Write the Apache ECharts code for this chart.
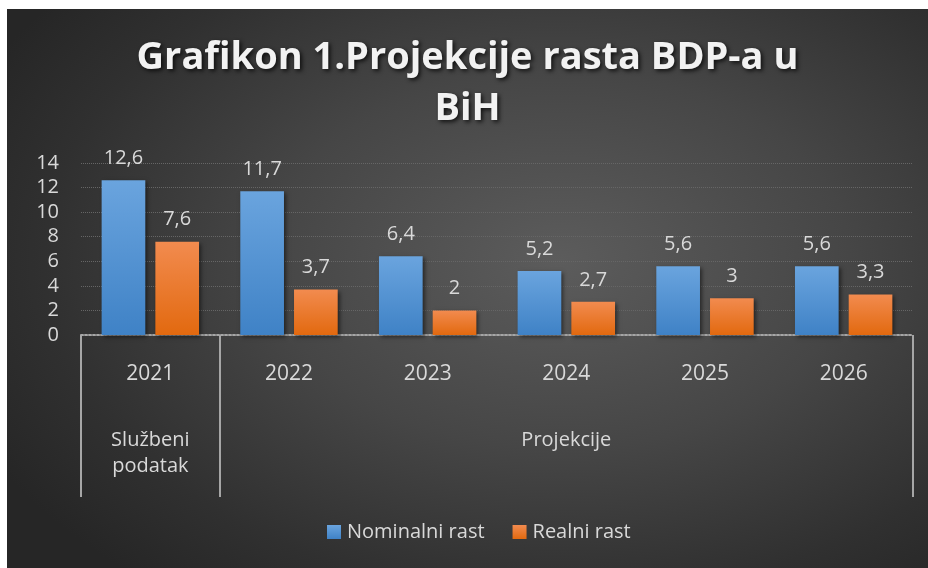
<!DOCTYPE html>
<html>
<head>
<meta charset="utf-8">
<script src="https://cdn.jsdelivr.net/npm/echarts@6/dist/echarts.min.js"></script>
<style>
  html, body { margin: 0; padding: 0; background: #ffffff; width: 928px; height: 568px; overflow: hidden; }
  #chart {
    position: absolute; left: 7px; top: 9px; width: 921px; height: 559px;
    background: radial-gradient(ellipse 70% 75% at 60% 45%, #5c5c5c 0%, #464646 45%, #303030 80%, #262626 100%);
  }
</style>
</head>
<body>
<div id="chart"></div>
<script>
const titleText = 'Grafikon 1.Projekcije rasta BDP-a u\nBiH';
const years = ['2021', '2022', '2023', '2024', '2025', '2026'];
const nominal = [12.6, 11.7, 6.4, 5.2, 5.6, 5.6];
const real = [7.6, 3.7, 2, 2.7, 3, 3.3];
const seriesNames = ['Nominalni rast', 'Realni rast'];
const groupLabels = ['Službeni\npodatak', 'Projekcije'];
const groupLabelPos = [0.5, 3.5];
const groupBounds = [0, 1, 6];
const yTicks = { min: 0, max: 14, interval: 2 };

const FONT = '"Open Sans", sans-serif';
const TXT = '#d9d9d9';
const chart = echarts.init(document.getElementById('chart'), null, { renderer: 'canvas' });

function fmt(v) { return String(v).replace('.', ','); }

const blueGrad = new echarts.graphic.LinearGradient(0, 0, 0, 1, [
  { offset: 0, color: '#6aa4de' }, { offset: 1, color: '#3f82c6' }
]);
const orangeGrad = new echarts.graphic.LinearGradient(0, 0, 0, 1, [
  { offset: 0, color: '#f28b4f' }, { offset: 1, color: '#e2690f' }
]);

const labelCfg = {
  show: true, position: 'top', distance: 12,
  color: TXT, fontFamily: FONT, fontSize: 20,
  formatter: p => fmt(p.value)
};

chart.setOption({
  backgroundColor: 'transparent',
  title: {
    text: titleText, left: 'center', top: 19,
    textStyle: {
      color: '#f2f2f2', fontFamily: FONT, fontWeight: 'bold', fontSize: 38, lineHeight: 51,
      textShadowColor: 'rgba(0,0,0,0.75)', textShadowBlur: 4, textShadowOffsetX: 2, textShadowOffsetY: 2
    }
  },
  legend: {
    data: seriesNames, bottom: 21, left: 315,
    icon: 'rect', itemWidth: 14, itemHeight: 14, itemGap: 28,
    textStyle: { color: TXT, fontFamily: FONT, fontSize: 20, padding: [0, 0, 0, 1] }
  },
  grid: { left: 74, right: 15, top: 154, bottom: 233, containLabel: false },
  xAxis: [
    {
      type: 'category', data: years, position: 'bottom',
      axisLine: { show: true, lineStyle: { color: '#a6a6a6', width: 2, type: 'dotted' } },
      axisTick: { show: false },
      axisLabel: { color: TXT, fontFamily: FONT, fontSize: 21, margin: 29 },
      splitLine: { show: false }
    },
    {
      type: 'value', min: 0, max: 6, position: 'bottom', gridIndex: 0,
      axisLine: { show: false },
      axisTick: { show: true, customValues: groupBounds, length: 162, lineStyle: { color: '#a6a6a6', width: 2 } },
      axisLabel: {
        show: true, customValues: groupLabelPos, margin: 92,
        color: TXT, fontFamily: FONT, fontSize: 20, lineHeight: 26,
        formatter: v => groupLabels[groupLabelPos.indexOf(v)] || ''
      },
      splitLine: { show: false }
    }
  ],
  yAxis: {
    type: 'value', min: yTicks.min, max: yTicks.max, interval: yTicks.interval,
    axisLine: { show: false }, axisTick: { show: false },
    axisLabel: { color: TXT, fontFamily: FONT, fontSize: 20, margin: 22 },
    splitLine: { show: true, lineStyle: { color: '#666666', width: 1, type: 'dotted' } }
  },
  series: [
    {
      name: seriesNames[0], type: 'bar', xAxisIndex: 0, data: nominal,
      barWidth: '31.5%', barGap: '23%',
      itemStyle: { color: blueGrad, shadowColor: 'rgba(0,0,0,0.5)', shadowBlur: 4, shadowOffsetX: 2, shadowOffsetY: 2 },
      label: labelCfg
    },
    {
      name: seriesNames[1], type: 'bar', xAxisIndex: 0, data: real,
      barWidth: '31.5%', barGap: '23%',
      itemStyle: { color: orangeGrad, shadowColor: 'rgba(0,0,0,0.5)', shadowBlur: 4, shadowOffsetX: 2, shadowOffsetY: 2 },
      label: labelCfg
    }
  ]
});
</script>
</body>
</html>
